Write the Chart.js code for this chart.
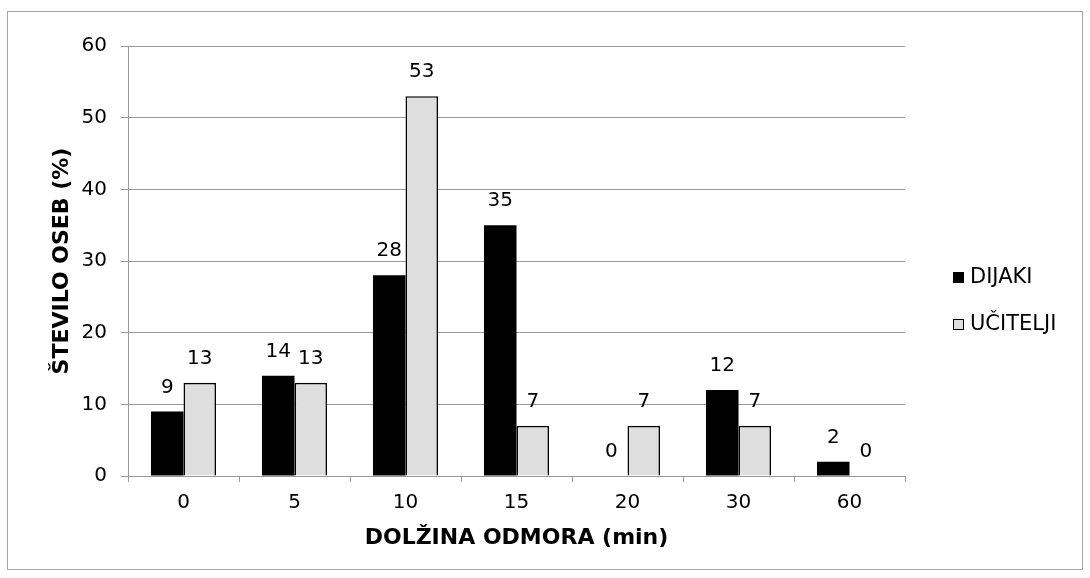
<!DOCTYPE html>
<html>
<head>
<meta charset="utf-8">
<script src="https://cdn.jsdelivr.net/npm/chart.js@4.4.0/dist/chart.umd.min.js"></script>
<style>
  html, body { margin: 0; padding: 0; background: #fff; }
  #frame { position: absolute; left: 7px; top: 11px; width: 1076px; height: 559px;
           border: 1px solid #a6a6a6; box-sizing: border-box; }
  #wrap { position: absolute; left: 0; top: 0; width: 1090px; height: 578px; }
</style>
</head>
<body>
<div id="frame"></div>
<div id="wrap"><canvas id="c" width="1090" height="578"></canvas></div>
<script>
// Break length (minutes) and share of respondents (%)
const categories = ['0', '5', '10', '15', '20', '30', '60'];
const dijaki = [9, 14, 28, 35, 0, 12, 2];
const ucitelji = [13, 13, 53, 7, 7, 7, 0];
const yTicks = [0, 10, 20, 30, 40, 50, 60];
const seriesNames = ['DIJAKI', 'UČITELJI'];
const xTitle = 'DOLŽINA ODMORA (min)';
const yTitle = 'ŠTEVILO OSEB (%)';

const FONT = "'DejaVu Sans', Verdana, sans-serif";
const GRID = '#999999';

// Value printed above every bar
const valueLabels = {
  id: 'valueLabels',
  afterDatasetsDraw(chart) {
    const ctx = chart.ctx;
    ctx.save();
    ctx.font = '20px ' + FONT;
    ctx.fillStyle = '#000';
    ctx.textAlign = 'center';
    ctx.textBaseline = 'alphabetic';
    chart.data.datasets.forEach((ds, i) => {
      chart.getDatasetMeta(i).data.forEach((bar, j) => {
        ctx.fillText(String(ds.data[j]), bar.x, bar.y - 19);
      });
    });
    ctx.restore();
  }
};

// Legend to the right of the plot
const sideLegend = {
  id: 'sideLegend',
  afterDraw(chart) {
    const { ctx, chartArea } = chart;
    const mid = (chartArea.top + chartArea.bottom) / 2;
    ctx.save();
    ctx.font = '21px ' + FONT;
    ctx.textAlign = 'left';
    ctx.textBaseline = 'middle';
    chart.data.datasets.forEach((ds, i) => {
      const cy = Math.round(mid + 16 + i * 47);
      const bx = Math.round(chartArea.right + 48);
      ctx.fillStyle = ds.backgroundColor;
      ctx.fillRect(bx, cy - 5, 11, 11);
      ctx.strokeStyle = '#000';
      ctx.lineWidth = 1;
      ctx.strokeRect(bx + 0.5, cy - 4.5, 10, 10);
      ctx.fillStyle = '#000';
      ctx.fillText(ds.label, bx + 17, cy + 1);
    });
    ctx.restore();
  }
};

new Chart(document.getElementById('c'), {
  type: 'bar',
  data: {
    labels: categories,
    datasets: [
      { label: seriesNames[0], data: dijaki, backgroundColor: '#000000',
        borderColor: '#000000', borderWidth: 0 },
      { label: seriesNames[1], data: ucitelji, backgroundColor: '#dedede',
        borderColor: '#000000', borderWidth: 1.6, borderSkipped: 'start' }
    ]
  },
  options: {
    responsive: false,
    animation: false,
    layout: { padding: { left: 0, top: 46, right: 185, bottom: 27 } },
    datasets: { bar: { barPercentage: 1, categoryPercentage: 0.586 } },
    plugins: { legend: { display: false }, tooltip: { enabled: false } },
    scales: {
      x: {
        grid: { display: true, drawOnChartArea: false, drawTicks: true, tickLength: 6, color: GRID, offset: true },
        border: { display: true, color: GRID },
        ticks: { color: '#000', font: { family: FONT, size: 20 }, padding: 9 },
        title: { display: true, text: xTitle, color: '#000',
                 font: { family: FONT, size: 22, weight: 'bold' }, padding: { top: 0, bottom: 0 } },
        afterFit(scale) { scale.height = 75; }
      },
      y: {
        min: 0, max: 60,
        afterBuildTicks(scale) { scale.ticks = yTicks.map(v => ({ value: v })); },
        grid: { color: GRID, tickLength: 7 },
        border: { display: true, color: GRID },
        ticks: { color: '#000', font: { family: FONT, size: 20 }, padding: 14 },
        title: { display: true, text: yTitle, color: '#000',
                 font: { family: FONT, size: 22, weight: 'bold' }, padding: { top: 49, bottom: 0 } },
        afterFit(scale) { scale.width = 128; }
      }
    }
  },
  plugins: [valueLabels, sideLegend]
});
</script>
</body>
</html>
